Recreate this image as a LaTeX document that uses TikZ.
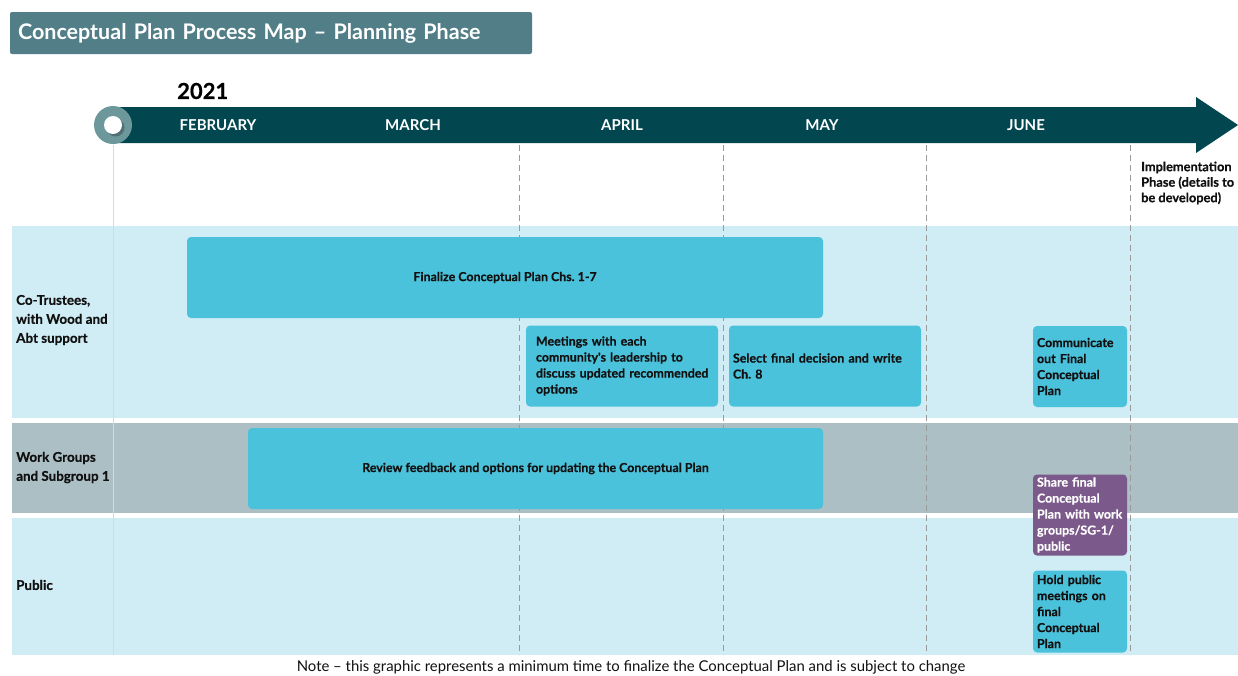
\documentclass[tikz,border=0pt]{standalone}
\usepackage{fontspec}
\setmainfont{Lato}
\newfontfamily\heavyfont{Lato}[BoldFeatures={FakeBold=0.5}]
\definecolor{titlebg}{HTML}{517E87}
\definecolor{barcol}{HTML}{02474F}
\definecolor{circcol}{HTML}{6C989C}
\definecolor{lanelight}{HTML}{D0ECF4}
\definecolor{lanegrey}{HTML}{ACBFC5}
\definecolor{boxcyan}{HTML}{4BC2DB}
\definecolor{boxpurple}{HTML}{7B5A8B}
\definecolor{dashgrey}{HTML}{9A9A9A}
\definecolor{faintline}{HTML}{C9DFE5}
\definecolor{inktext}{HTML}{111111}
\tikzset{
  boxtext/.style={font=\fontsize{12.4}{16}\selectfont\heavyfont\bfseries, text=inktext},
  taskbox/.style={boxtext, fill=boxcyan, rounded corners=4pt, inner sep=0pt, align=left, minimum height=81},
  sharebox/.style={taskbox, fill=boxpurple, text=white},
  monthlabel/.style={font=\fontsize{15}{16}\selectfont\bfseries, text=white, inner sep=0pt},
  lanelabel/.style={font=\fontsize{13.4}{19}\selectfont\heavyfont\bfseries, text=inktext, align=left, anchor=west, inner sep=0pt},
  dashline/.style={draw=dashgrey, line width=0.8pt, dash pattern=on 6pt off 4pt},
}
\frenchspacing
\begin{document}
\hyphenpenalty=10000
\exhyphenpenalty=10000
\hbadness=10000
\hfuzz=50pt
\begin{tikzpicture}[x=1pt,y=-1pt]
\useasboundingbox (0,0) rectangle (1238,675);
% title
\node[fill=titlebg, rounded corners=2pt, text width=506, inner xsep=8pt, inner ysep=0pt, minimum height=42, align=left,
      font=\fontsize{21.5}{24}\selectfont\bfseries, text=white] (title) at (271,33) {Conceptual Plan Process Map -- Planning Phase};
% year
\node[font=\fontsize{22}{24}\selectfont\heavyfont\bfseries, anchor=west, inner sep=0pt] (year) at (177,91) {2021};
% lanes
\fill[lanelight] (12,226) rectangle (1238,418);
\fill[lanegrey] (12,423) rectangle (1238,513);
\fill[lanelight] (12,518) rectangle (1238,655);
% vertical lines
\draw[faintline, line width=0.5pt] (113,145) -- (113,655);
\foreach \x in {519,723,926,1130} { \draw[dashline] (\x,145) -- (\x,655); }
% timeline arrow
\fill[barcol] (113,107) -- (1196,107) -- (1196,97) -- (1238,125) -- (1196,153) -- (1196,143) -- (113,143) -- cycle;
\fill[circcol] (113,125) circle (19);
\fill[black, opacity=0.25] (115.5,127.5) circle (9);
\fill[white] (113,125) circle (9);
% months
\node[monthlabel] (feb) at (218,125) {FEBRUARY};
\node[monthlabel] (mar) at (413,125) {MARCH};
\node[monthlabel] (apr) at (622,125) {APRIL};
\node[monthlabel] (may) at (822,125) {MAY};
\node[monthlabel] (jun) at (1026,125) {JUNE};
% implementation
\node[font=\fontsize{12.8}{15.5}\selectfont\heavyfont\bfseries, text=inktext, align=left, anchor=west, inner sep=0pt] (impl) at (1141,183)
  {Implementation\\Phase (details to\\be developed)};
% lane labels
\node[lanelabel] (cotrust) at (16,320) {Co-Trustees,\\with Wood and\\Abt support};
\node[lanelabel] (workgrp) at (16,467.5) {Work Groups\\and Subgroup 1};
\node[lanelabel] (public) at (16,585) {Public};
% task boxes
\node[taskbox, minimum width=636, align=center] (finalize) at (505,277.5) {Finalize Conceptual Plan Chs. 1-7};
\node[taskbox, minimum width=192, text width=172] (meet) at (622,366) {Meetings with each\\community's leadership to\\discuss~updated~recommended\\options};
\node[taskbox, minimum width=192, text width=184] (select) at (825,366) {Select final decision and write\\Ch. 8};
\node[taskbox, minimum width=94, text width=86] (comm) at (1080,366.5) {Communicate\\out Final\\Conceptual\\Plan};
\node[taskbox, minimum width=575, align=center] (review) at (535.5,468.5) {Review feedback and options for updating the Conceptual Plan};
\node[sharebox, minimum width=94, text width=86] (share) at (1080,515) {Share final\\Conceptual\\Plan with work\\groups/SG-1/\\public};
\node[taskbox, minimum width=94, text width=86, minimum height=82] (hold) at (1080,611.5) {Hold public\\meetings on\\final\\Conceptual\\Plan};
% note
\node[font=\fontsize{14.9}{16}\selectfont, text=inktext, anchor=base, inner sep=0pt] (note) at (631,671)
  {Note -- this graphic represents a minimum time to finalize the Conceptual Plan and is subject to change};
\end{tikzpicture}
\end{document}
